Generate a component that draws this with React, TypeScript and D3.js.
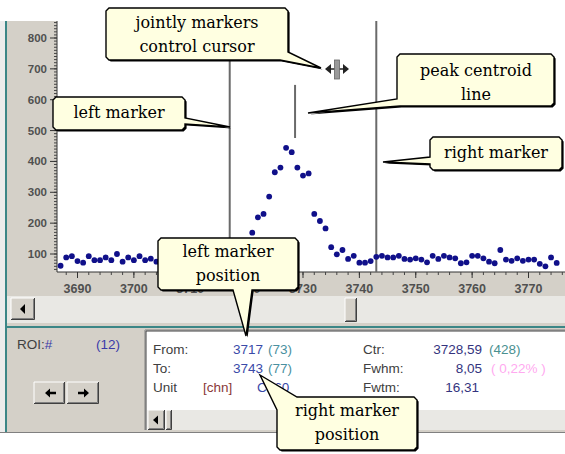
import React from 'react';
import * as d3 from 'd3';

// ---- data ----
const firstChannel = 3687;
const counts = [
  62, 89, 93, 77, 72, 93, 80, 80, 89, 80, 100, 75, 89, 80, 93, 80, 85, 75,
  82, 88, 78, 90, 84, 76, 86, 92, 80, 85, 79, 88, 95, 90, 115, 135,
  169, 219, 230, 286, 365, 380, 444, 430, 380, 354, 361, 230, 207, 183, 122, 99,
  113, 84, 94, 72, 72, 77, 91, 94, 89, 89, 94, 84, 82, 86, 82, 73, 94, 84, 94,
  89, 86, 70, 73, 94, 94, 86, 75, 70, 113, 82, 78, 86, 78, 82, 82, 68, 60, 89, 71,
];
const channels = counts.map((_, i) => firstChannel + i);
const xTickValues = [3690, 3700, 3710, 3720, 3730, 3740, 3750, 3760, 3770];
const yTickValues = [100, 200, 300, 400, 500, 600, 700, 800];
const leftMarker = 3717;
const rightMarker = 3743;
const centroid = 3728.59;
const centroidSpan = [476, 648];

// ---- layout ----
const W = 565, H = 454;
const PL = 57, PR = 565, PT = 21, PB = 272;

const GRAY = '#d4d0c8';
const TEAL = '#3b8686';
const CREAM = '#ffffe1';

function Raised({ x, y, w, h }: any) {
  return (
    <g>
      <rect x={x} y={y} width={w} height={h} fill={GRAY} />
      <path d={`M${x},${y + h} L${x},${y} L${x + w},${y}`} stroke="#fff" fill="none" />
      <path d={`M${x},${y + h - 0.5} L${x + w - 0.5},${y + h - 0.5} L${x + w - 0.5},${y}`} stroke="#404040" fill="none" />
      <path d={`M${x + 1},${y + h - 1.5} L${x + w - 1.5},${y + h - 1.5} L${x + w - 1.5},${y + 1}`} stroke="#808080" fill="none" />
    </g>
  );
}

function Callout({ pts, lines, cx, baselines }: any) {
  const d = 'M' + pts.map((p: number[]) => p.join(',')).join('L') + 'Z';
  return (
    <g>
      <path d={d} transform="translate(1.6,1.6)" fill="#000" />
      <path d={d} fill={CREAM} stroke="#000" strokeWidth={1.4} strokeLinejoin="miter" />
      {lines.map((t: string, i: number) => (
        <text key={i} x={cx} y={baselines[i]} textAnchor="middle" fontFamily="DejaVu Serif" fontSize={16} fill="#000">{t}</text>
      ))}
    </g>
  );
}

export default function App() {
  const x = d3.scaleLinear().domain([3690, 3770]).range([77.5, 528.5]);
  const y = d3.scaleLinear().domain([100, 800]).range([254, 38]);
  const minorY = d3.range(50, 860, 10).filter((v) => y(v) > PT && y(v) < PB);
  const minorX = d3.range(3688, 3778, 2).filter((v) => x(v) > PL && x(v) < PR);

  const uiFont = 'Liberation Sans, Arial, sans-serif';

  return (
    <div style={{ position: 'absolute', left: 0, top: 0 }}>
      <svg width={W} height={H} style={{ display: 'block' }}>
        <rect width={W} height={H} fill="#fff" />
        {/* left frame */}
        <rect x={0} y={PT} width={5} height={411} fill="#ececec" />
        <rect x={5} y={PT} width={2} height={411} fill={TEAL} />
        {/* y-axis panel */}
        <rect x={7} y={PT} width={PL - 7} height={PB - PT} fill={GRAY} />
        {/* plot */}
        <rect x={PL} y={PT} width={PR - PL} height={PB - PT} fill="#fff" />
        {/* x-axis band */}
        <rect x={7} y={PB} width={W - 7} height={24} fill={GRAY} />

        {/* y ticks */}
        <line x1={PL} x2={PL} y1={PT} y2={PB} stroke="#333" />
        {minorY.map((v) => (
          <line key={'my' + v} x1={PL - 3} x2={PL} y1={y(v)} y2={y(v)} stroke="#444" />
        ))}
        {yTickValues.map((v) => (
          <g key={'y' + v}>
            <line x1={PL - 7} x2={PL} y1={y(v)} y2={y(v)} stroke="#333" />
            <text x={PL - 10} y={y(v) + 4} textAnchor="end" fontFamily={uiFont} fontSize={11.5} fontWeight="bold" fill="#505050">{v}</text>
          </g>
        ))}

        {/* x ticks */}
        <line x1={PL} x2={PR} y1={PB} y2={PB} stroke="#333" />
        {minorX.map((v) => (
          <line key={'mx' + v} x1={x(v)} x2={x(v)} y1={PB} y2={PB + 3} stroke="#444" />
        ))}
        {xTickValues.map((v) => (
          <g key={'x' + v}>
            <line x1={x(v)} x2={x(v)} y1={PB} y2={PB + 6} stroke="#333" />
            <text x={x(v)} y={PB + 21} textAnchor="middle" fontFamily={uiFont} fontSize={12.5} fontWeight="bold" fill="#505050">{v}</text>
          </g>
        ))}

        {/* markers */}
        <line x1={x(leftMarker)} x2={x(leftMarker)} y1={PT} y2={PB} stroke="#6a6a6a" strokeWidth={2} />
        <line x1={x(rightMarker)} x2={x(rightMarker)} y1={PT} y2={PB} stroke="#6a6a6a" strokeWidth={2} />
        <line x1={x(centroid)} x2={x(centroid)} y1={y(centroidSpan[0])} y2={y(centroidSpan[1])} stroke="#6a6a6a" strokeWidth={2} />

        {/* points */}
        <g clipPath="url(#plotclip)">
          {counts.map((c, i) => (
            <circle key={i} cx={x(channels[i])} cy={y(c)} r={2.9} fill="#10108a" />
          ))}
        </g>
        <defs>
          <clipPath id="plotclip">
            <rect x={PL} y={PT} width={PR - PL} height={PB - PT} />
          </clipPath>
        </defs>

        {/* scrollbar */}
        <rect x={7} y={296} width={W - 7} height={27} fill="#e9e8e4" />
        <Raised x={11} y={298} w={24} h={22} />
        <path d="M20,309 L25,304 L25,314 Z" fill="#000" />
        <Raised x={345} y={298} w={12} h={24} />
        <rect x={7} y={323} width={W - 7} height={3} fill={GRAY} />
        <rect x={7} y={326} width={W - 7} height={2} fill={TEAL} />

        {/* lower panel */}
        <rect x={7} y={328} width={W - 7} height={104} fill={GRAY} />
        <line x1={0} x2={W} y1={432.5} y2={432.5} stroke="#808080" />
        <text x={17} y={349} fontFamily={uiFont} fontSize={13.5} fill="#404040">ROI:<tspan fill="#3a3aa8">#</tspan></text>
        <text x={96} y={349} fontFamily={uiFont} fontSize={13.5} fill="#3a3aa8">(12)</text>
        <Raised x={34} y={382} w={31} h={22} />
        <Raised x={67} y={382} w={32} h={22} />
        <path d="M45,393 L50,388.5 L50,397.5 Z M50,391.8 H56 V394.2 H50 Z" fill="#000" />
        <path d="M89,393 L84,388.5 L84,397.5 Z M84,391.8 H78 V394.2 H84 Z" fill="#000" />

        {/* info panel */}
        <rect x={145} y={330} width={W - 145} height={100} fill="#fff" />
        <path d="M145,430 V330 H565" stroke="#808080" fill="none" />
        <path d="M146,430 V331 H565" stroke="#404040" fill="none" />
        <rect x={147} y={410} width={W - 147} height={20} fill="#e9e8e4" />
        <Raised x={148} y={410} w={17} h={20} />
        <path d="M153,420 L158,415.5 L158,424.5 Z" fill="#000" />
        <Raised x={166} y={410} w={6} h={20} />

        <g fontFamily={uiFont} fontSize={13.5}>
          <text x={153} y={354} fill="#404040">From:</text>
          <text x={263} y={354} textAnchor="end" fill="#3a4aa8">3717</text>
          <text x={268} y={354} fill="#4a90a0">(73)</text>
          <text x={153} y={373} fill="#404040">To:</text>
          <text x={263} y={373} textAnchor="end" fill="#3a4aa8">3743</text>
          <text x={268} y={373} fill="#4a90a0">(77)</text>
          <text x={153} y={392} fill="#404040">Unit</text>
          <text x={203} y={392} fill="#8a3838">[chn]</text>
          <text x={257} y={392} fill="#3a4aa8">Co60</text>

          <text x={363} y={354} fill="#404040">Ctr:</text>
          <text x={482} y={354} textAnchor="end" fill="#34347e">3728,59</text>
          <text x={489} y={354} fill="#4a9090">(428)</text>
          <text x={363} y={373} fill="#404040">Fwhm:</text>
          <text x={482} y={373} textAnchor="end" fill="#34347e">8,05</text>
          <text x={491} y={373} fill="#ffaaf0">( 0,22% )</text>
          <text x={363} y={392} fill="#404040">Fwtm:</text>
          <text x={479} y={392} textAnchor="end" fill="#34347e">16,31</text>
        </g>

        {/* cursor icon */}
        <g>
          <path d="M325,69 L331,64 L331,74 Z" fill="#222" />
          <path d="M349,69 L343,64 L343,74 Z" fill="#222" />
          <line x1={330} x2={344} y1={69} y2={69} stroke="#222" strokeWidth={1.5} />
          <rect x={334.5} y={60} width={5} height={19} fill="#9a9a9a" stroke="#666" strokeWidth={0.8} />
        </g>

        {/* callouts */}
        <Callout
          pts={[[109, 8], [285, 8], [288, 11], [288, 52], [321, 68], [280, 60], [109, 60], [106, 57], [106, 11]]}
          lines={['jointly markers', 'control cursor']} cx={197} baselines={[28, 52]} />
        <Callout
          pts={[[56, 97], [182, 97], [185, 100], [185, 118], [230, 127], [185, 124], [185, 127], [182, 130], [56, 130], [53, 127], [53, 100]]}
          lines={['left marker']} cx={119} baselines={[118]} />
        <Callout
          pts={[[400, 54], [551, 54], [554, 57], [554, 103], [551, 106], [400, 106], [308, 113], [397, 99], [397, 57]]}
          lines={['peak centroid', 'line']} cx={476} baselines={[76, 100]} />
        <Callout
          pts={[[433, 137], [559, 137], [562, 140], [562, 167], [559, 170], [433, 170], [430, 167], [430, 164], [383, 162], [430, 157], [430, 140]]}
          lines={['right marker']} cx={496} baselines={[158]} />
        <Callout
          pts={[[161, 238], [295, 238], [298, 241], [298, 287], [295, 290], [252, 290], [246, 336], [233, 290], [161, 290], [158, 287], [158, 241]]}
          lines={['left marker', 'position']} cx={228} baselines={[257, 281]} />
        <Callout
          pts={[[260, 375], [297, 397], [414, 397], [417, 400], [417, 447], [414, 450], [280, 450], [277, 447], [277, 410]]}
          lines={['right marker', 'position']} cx={347} baselines={[416, 440]} />
      </svg>
    </div>
  );
}
